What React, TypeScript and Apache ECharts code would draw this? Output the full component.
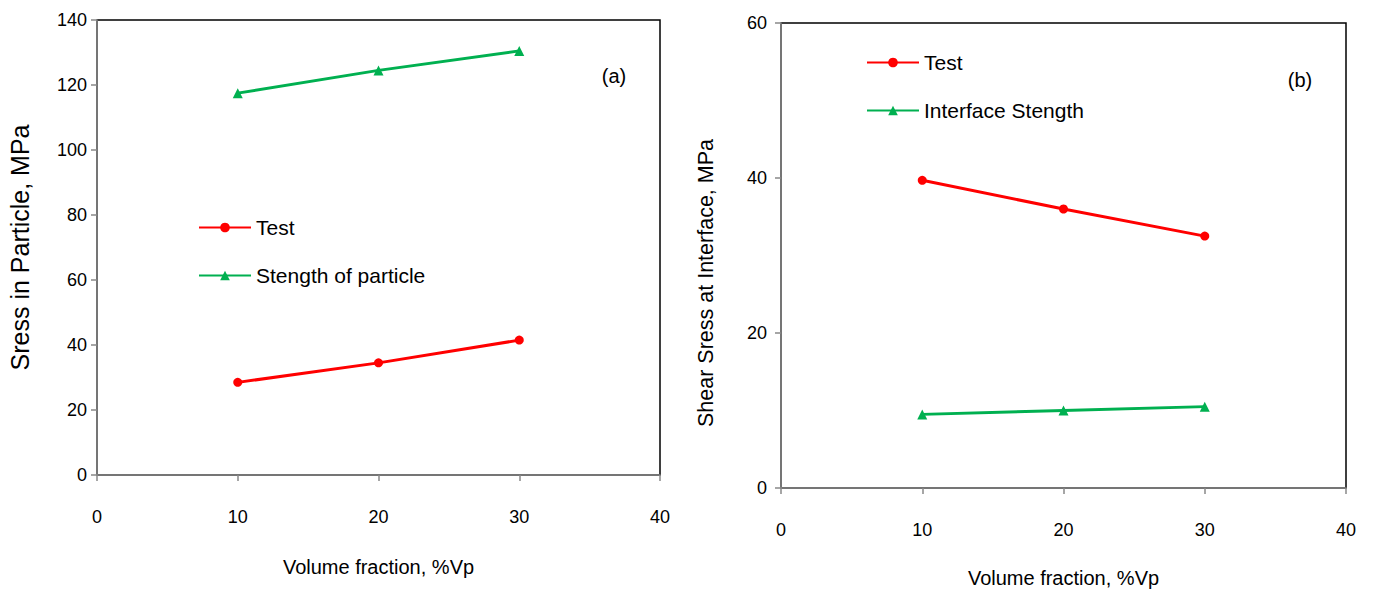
import React, { useEffect, useRef } from "react";
import * as echarts from "echarts";

const volumeFraction = [10, 20, 30];
const testA = [28.5, 34.5, 41.5];
const strengthParticle = [117.5, 124.5, 130.5];
const testB = [39.7, 36.0, 32.5];
const interfaceStrength = [9.5, 10.0, 10.5];

const FONT = "'Liberation Sans', Arial, sans-serif";
const RED = "#ff0000";
const GREEN = "#00b050";

function pairs(xs: number[], ys: number[]) {
  return xs.map((x, i) => [x, ys[i]]);
}

export default function App() {
  const ref = useRef<HTMLDivElement>(null);
  useEffect(() => {
    if (!ref.current) return;
    const chart = echarts.init(ref.current, null, { renderer: "svg" });
    const axisLine = { show: true, lineStyle: { color: "#888", width: 1.5 } };
    const axisTick = { show: true, inside: false, length: 6, lineStyle: { color: "#888", width: 1.5 } };
    const label = { color: "#000", fontSize: 18, fontFamily: FONT };
    const nameStyle = { color: "#000", fontSize: 20, fontFamily: FONT };
    const xAxisCommon = (gi: number, gap: number) => ({
      type: "value",
      gridIndex: gi,
      min: 0,
      max: 40,
      interval: 10,
      name: "Volume fraction, %Vp",
      nameLocation: "middle",
      nameGap: gap,
      nameTextStyle: nameStyle,
      axisLine,
      axisTick,
      axisLabel: { ...label, margin: 33 },
      splitLine: { show: false },
    });
    const legendText = { color: "#000", fontSize: 21, fontFamily: FONT, padding: [0, 0, 0, 0] };
    chart.setOption({
      animation: false,
      backgroundColor: "#fff",
      textStyle: { fontFamily: FONT },
      grid: [
        { left: 97, top: 20, width: 563, height: 455, show: true, borderColor: "#000", borderWidth: 1.5, backgroundColor: "transparent", outerBoundsMode: "none", containLabel: false },
        { left: 781, top: 23, width: 565, height: 465, show: true, borderColor: "#000", borderWidth: 1.5, backgroundColor: "transparent", outerBoundsMode: "none", containLabel: false },
      ],
      xAxis: [xAxisCommon(0, 82), xAxisCommon(1, 80)],
      yAxis: [
        {
          type: "value",
          gridIndex: 0,
          min: 0,
          max: 140,
          interval: 20,
          name: "Sress in Particle, MPa",
          nameLocation: "middle",
          nameGap: 65,
          nameTextStyle: { ...nameStyle, fontSize: 25 },
          axisLine,
          axisTick,
          axisLabel: { ...label, margin: 10 },
          splitLine: { show: false },
        },
        {
          type: "value",
          gridIndex: 1,
          min: 0,
          max: 60,
          interval: 20,
          axisLine,
          axisTick,
          axisLabel: { ...label, margin: 14 },
          splitLine: { show: false },
        },
      ],
      legend: [
        {
          left: 193,
          top: 212,
          orient: "vertical",
          itemWidth: 52,
          itemHeight: 12,
          itemGap: 27,
          lineStyle: { width: 2 },
          textStyle: legendText,
          data: ["Test", "Stength of particle"],
        },
        {
          left: 861,
          top: 47,
          orient: "vertical",
          itemWidth: 52,
          itemHeight: 12,
          itemGap: 27,
          lineStyle: { width: 2 },
          textStyle: legendText,
          data: ["Test", "Interface Stength"],
        },
      ],
      series: [
        {
          name: "Test",
          type: "line",
          xAxisIndex: 0,
          yAxisIndex: 0,
          data: pairs(volumeFraction, testA),
          symbol: "circle",
          symbolSize: 9,
          lineStyle: { color: RED, width: 3 },
          itemStyle: { color: RED },
        },
        {
          name: "Stength of particle",
          type: "line",
          xAxisIndex: 0,
          yAxisIndex: 0,
          data: pairs(volumeFraction, strengthParticle),
          symbol: "triangle",
          symbolSize: 10,
          lineStyle: { color: GREEN, width: 3 },
          itemStyle: { color: GREEN },
        },
        {
          name: "Test",
          type: "line",
          xAxisIndex: 1,
          yAxisIndex: 1,
          data: pairs(volumeFraction, testB),
          symbol: "circle",
          symbolSize: 9,
          lineStyle: { color: RED, width: 3 },
          itemStyle: { color: RED },
        },
        {
          name: "Interface Stength",
          type: "line",
          xAxisIndex: 1,
          yAxisIndex: 1,
          data: pairs(volumeFraction, interfaceStrength),
          symbol: "triangle",
          symbolSize: 10,
          lineStyle: { color: GREEN, width: 3 },
          itemStyle: { color: GREEN },
        },
      ],
      graphic: [
        { type: "text", x: 614, y: 76, style: { text: "(a)", fontSize: 20, fontFamily: FONT, fill: "#000", align: "center", verticalAlign: "middle" } },
        { type: "text", x: 1300, y: 80, style: { text: "(b)", fontSize: 20, fontFamily: FONT, fill: "#000", align: "center", verticalAlign: "middle" } },
        {
          type: "text",
          x: 706,
          y: 283,
          rotation: Math.PI / 2,
          style: { text: "Shear Sress at Interface, MPa", fontSize: 21.5, fontFamily: FONT, fill: "#000", align: "center", verticalAlign: "middle" },
        },
      ],
    });
    return () => chart.dispose();
  }, []);
  return (
    <div
      ref={ref}
      style={{ position: "fixed", left: 0, top: 0, width: 1373, height: 592, background: "#fff" }}
    />
  );
}
